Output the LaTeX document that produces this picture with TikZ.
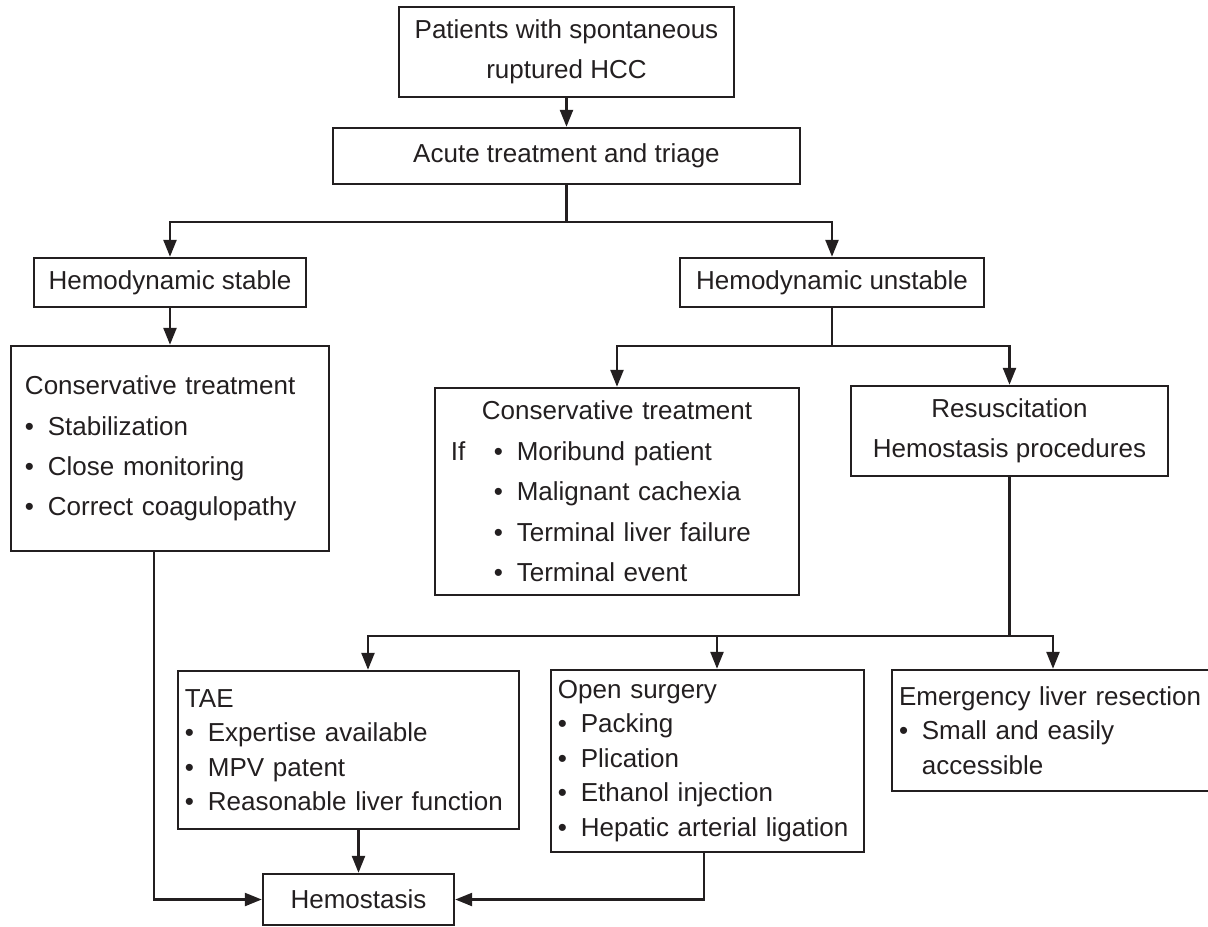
\documentclass[tikz,border=0pt]{standalone}
\usepackage{fontspec}
\setmainfont{Liberation Sans}
\usepackage{tikz}
\usetikzlibrary{shapes.geometric, arrows.meta}
\definecolor{ink}{RGB}{35,31,32}
\newcommand{\boxfont}{\fontsize{14.8}{23}\selectfont}
\newcommand{\listfont}{\fontsize{14.8}{19.6}\selectfont}
\newcommand{\itemdot}{\makebox[0.88em][l]{\textbullet}}
\tikzstyle{block}   = [rectangle, draw=ink, line width=1.4pt, text=ink,
                       inner sep=0pt, align=center, font=\boxfont]
\tikzstyle{listbox} = [block, align=left]
\tikzstyle{line}    = [draw=ink, line width=1.4pt]
\tikzstyle{arrow}   = [line, ->, >={Triangle[length=3.4mm, width=2.6mm]}]

\begin{document}
\begin{tikzpicture}[node distance=1.0cm]
\useasboundingbox (-11.33,1.04) rectangle (12.83,-17.48);
\node (pat) [block, minimum width=6.7cm, minimum height=1.8cm]
            {Patients with spontaneous\\ruptured HCC};
\node (acu) [block, below of=pat, yshift=-1.08cm,
             minimum width=9.34cm, minimum height=1.12cm] {Acute treatment and triage};
\node (sta) [block, below of=acu, xshift=-7.93cm, yshift=-1.53cm,
             minimum width=5.44cm, minimum height=0.98cm] {Hemodynamic stable};
\node (uns) [block, below of=acu, xshift= 5.31cm, yshift=-1.53cm,
             minimum width=6.08cm, minimum height=0.98cm] {Hemodynamic unstable};
\node (cs1) [listbox, below of=sta, yshift=-2.32cm,
             text width=5.8cm, inner xsep=0.28cm, minimum height=4.1cm]
            {Conservative treatment\\ \itemdot Stabilization\\
             \itemdot Close monitoring\\ \itemdot Correct coagulopathy};
\node (cs2) [listbox, below of=uns, xshift=-4.30cm, yshift=-3.18cm,
             text width=6.64cm, inner xsep=0.32cm, minimum height=4.14cm]
            {\makebox[6.64cm]{Conservative treatment}\\
             \makebox[1.65em][l]{If}\itemdot Moribund patient\\
             \hspace*{1.65em}\itemdot Malignant cachexia\\
             \hspace*{1.65em}\itemdot Terminal liver failure\\
             \hspace*{1.65em}\itemdot Terminal event};
\node (res) [block, below of=uns, xshift=3.55cm, yshift=-1.97cm,
             minimum width=6.34cm, minimum height=1.8cm]
            {Resuscitation\\Hemostasis procedures};
\node (tae) [listbox, font=\listfont, below of=cs2, xshift=-5.37cm, yshift=-4.17cm,
             text width=6.54cm, inner xsep=0.14cm, minimum height=3.16cm]
            {TAE\\ \itemdot Expertise available\\ \itemdot MPV patent\\
             \itemdot Reasonable liver function};
\node (ops) [listbox, font=\listfont, below of=cs2, xshift=1.81cm, yshift=-4.39cm,
             text width=5.98cm, inner xsep=0.14cm, minimum height=3.64cm]
            {Open surgery\\ \itemdot Packing\\ \itemdot Plication\\
             \itemdot Ethanol injection\\ \itemdot \mbox{Hepatic arterial ligation}};
\node (emr) [listbox, font=\listfont, below of=res, xshift=0.87cm, yshift=-4.99cm,
             text width=6.16cm, inner xsep=0.14cm, minimum height=2.42cm]
            {Emergency liver resection\\ \itemdot Small and easily\\
             \hspace*{0.88em}accessible};
\node (hem) [block, below of=tae, xshift=0.2cm, yshift=-1.99cm,
             minimum width=3.82cm, minimum height=1.02cm] {Hemostasis};

\coordinate [below of=acu, yshift=-0.32cm] (j1);
\coordinate [below of=uns, yshift=-0.27cm] (j2);
\coordinate [below of=res, yshift=-3.1cm]  (j3);

\draw [arrow] (pat) -- (acu);
\draw [line]  (acu) -- (j1);
\draw [arrow] (j1) -| (sta);
\draw [arrow] (j1) -| (uns);
\draw [arrow] (sta) -- (cs1);
\draw [line]  (uns) -- (j2);
\draw [arrow] (j2) -| (cs2);
\draw [arrow] (j2) -| (res);
\draw [line]  (res) -- (j3);
\draw [arrow] (j3) -| ([xshift=0.39cm]tae.north);
\draw [arrow] (j3) -| ([xshift=0.19cm]ops.north);
\draw [arrow] (j3) -| (emr);
\draw [arrow] (tae.south -| hem) -- (hem);
\draw [arrow] ([xshift=-0.32cm]cs1.south) |- (hem);
\draw [arrow] ([xshift=-0.07cm]ops.south) |- (hem);
\end{tikzpicture}
\end{document}
